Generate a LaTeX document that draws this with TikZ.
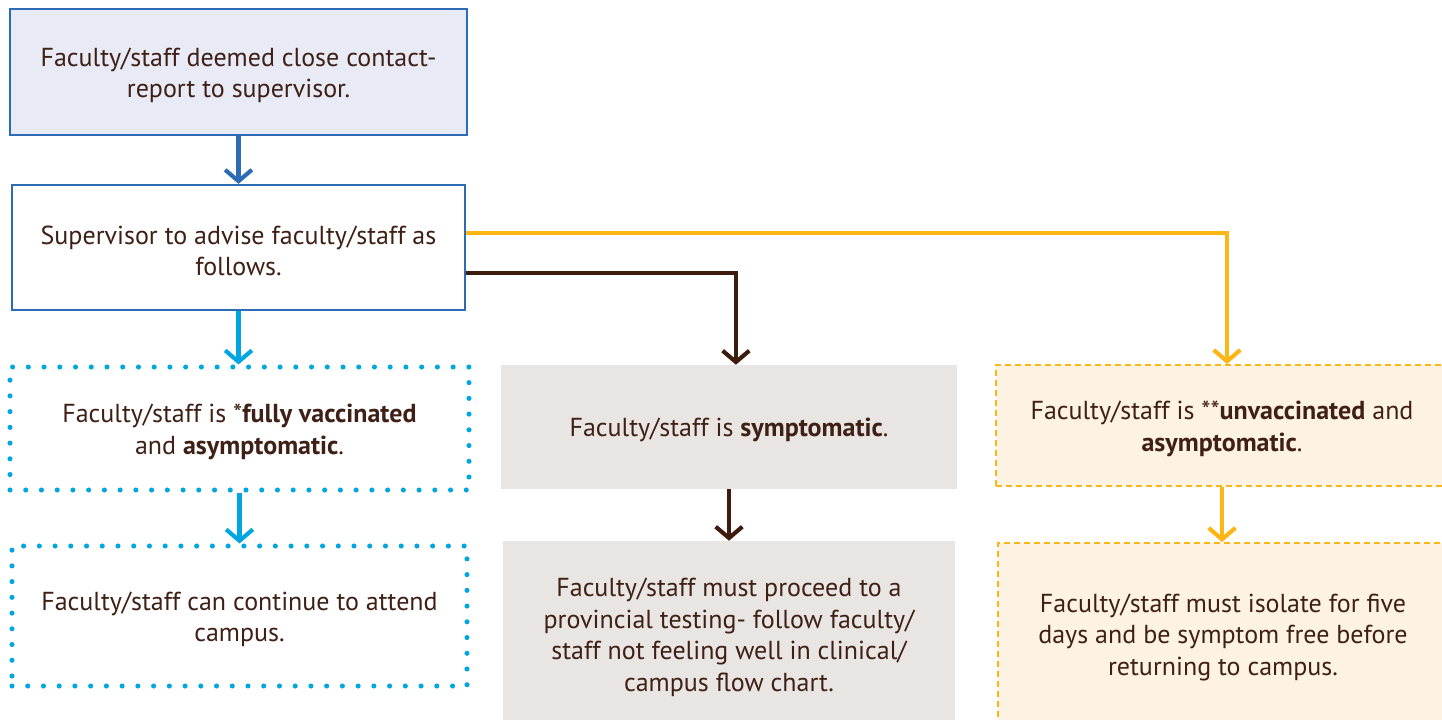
\documentclass[tikz,border=0pt]{standalone}
\usepackage{fontspec}
\setmainfont{PT Sans}
\usetikzlibrary{arrows.meta}
\definecolor{bblue}{RGB}{43,108,180}
\definecolor{topfill}{RGB}{232,234,246}
\definecolor{ccyan}{RGB}{0,166,226}
\definecolor{bbrown}{RGB}{61,28,14}
\definecolor{txtc}{RGB}{62,32,22}
\definecolor{grayfill}{RGB}{233,229,226}
\definecolor{yyellow}{RGB}{253,182,21}
\definecolor{creamfill}{RGB}{254,242,226}
\newcommand\tup{\rule{0pt}{18.8pt}}
\tikzset{
  box/.style={inner sep=0pt, align=center, text=txtc,
    font=\fontsize{19.5pt}{23.8pt}\selectfont},
  bluebox/.style={box, draw=bblue, line width=1.7pt},
  dotbox/.style={box, draw=ccyan, line width=3.8pt, line cap=round, dash pattern=on 0pt off 11.8pt},
  graybox/.style={box, fill=grayfill},
  yelbox/.style={box, fill=creamfill, draw=yyellow, line width=1.5pt, dash pattern=on 4.5pt off 3pt},
  arr/.style={line width=3.1pt, -{Straight Barb[length=8.5pt, width=20pt, line width=3.1pt]}},
}
\begin{document}
\begin{tikzpicture}[x=0.75pt, y=-0.75pt]
\clip (0,0) rectangle (1442,719);
\fill[white] (0,0) rectangle (1442,719);
\node[bluebox, fill=topfill, minimum width=457*0.75pt, minimum height=126*0.75pt] (top) at (238.5,72)
  {\tup Faculty/staff deemed close contact-\\report to supervisor.};
\node[bluebox, fill=white, minimum width=453*0.75pt, minimum height=125*0.75pt] (sup) at (238.5,247.5)
  {\tup Supervisor to advise faculty/staff as\\follows.};
\node[dotbox, minimum width=459*0.75pt, minimum height=123*0.75pt] (vacc) at (239.5,428.5)
  {\tup Faculty/staff is *\textbf{fully vaccinated}\\and \textbf{asymptomatic}.};
\node[dotbox, minimum width=455*0.75pt, minimum height=140*0.75pt] (cont) at (239.5,616)
  {\tup Faculty/staff can continue to attend\\campus.};
\node[graybox, minimum width=456*0.75pt, minimum height=124*0.75pt] (symp) at (729,427)
  {\tup Faculty/staff is \textbf{symptomatic}.};
\node[graybox, minimum width=452*0.75pt, minimum height=186*0.75pt] (must) at (729,634)
  {\tup Faculty/staff must proceed to a\\provincial testing- follow faculty/\\staff not feeling well in clinical/\\campus flow chart.};
\node[yelbox, minimum width=452*0.75pt, minimum height=121*0.75pt] (unv) at (1222,425.5)
  {\tup Faculty/staff is **\textbf{unvaccinated} and\\\textbf{asymptomatic}.};
\node[yelbox, minimum width=450*0.75pt, minimum height=182*0.75pt] (iso) at (1223,634)
  {\tup Faculty/staff must isolate for five\\days and be symptom free before\\returning to campus.};
\draw[arr, bblue] (top.south) -- (top.south |- sup.north);
\draw[arr, ccyan] (sup.south) -- (sup.south |- vacc.north);
\draw[arr, ccyan] (vacc.south) -- (vacc.south |- cont.north);
\draw[arr, bbrown] ([yshift=-19.1pt]sup.east) -| ([xshift=5.2pt]symp.north);
\draw[arr, bbrown] (symp.south) -- (symp.south |- must.north);
\draw[arr, yyellow] ([yshift=10.9pt]sup.east) -| ([xshift=3.75pt]unv.north);
\draw[arr, yyellow] (unv.south) -- (unv.south |- iso.north);
\end{tikzpicture}
\end{document}
